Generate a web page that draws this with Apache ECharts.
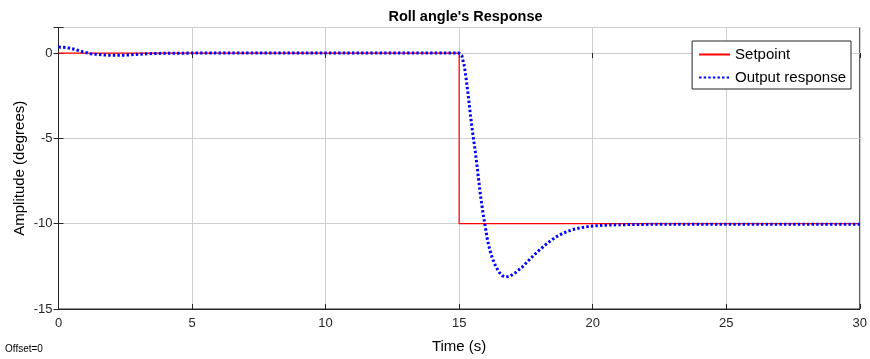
<!DOCTYPE html>
<html>
<head>
<meta charset="utf-8">
<script src="https://cdn.jsdelivr.net/npm/echarts@6/dist/echarts.min.js"></script>
<style>
  html, body { margin: 0; padding: 0; background: #fff; }
  #chart { width: 870px; height: 359px; }
</style>
</head>
<body>
<div id="chart"></div>
<script>
// setpoint step
var setpointTime = [0, 15, 15, 30];
var setpointValue = [0, 0, -10, -10];

// output response
var outputTime = [0, 0.3, 0.6, 0.9, 1.2, 1.6, 2.0, 2.5, 3.0, 3.5, 4.0, 5, 7, 9, 11, 13, 15,
    15.1, 15.2, 15.27, 15.35, 15.42, 15.5, 15.6, 15.7, 15.8, 15.9, 15.96, 16.06, 16.15, 16.25,
    16.37, 16.5, 16.62, 16.75, 16.9, 17.1, 17.37, 17.7, 18.0, 18.3, 18.62, 18.9, 19.24, 19.55,
    19.86, 20.3, 21, 22, 24, 26, 28, 30];
var outputValue = [0.35, 0.33, 0.22, 0.08, -0.04, -0.1, -0.13, -0.12, -0.07, -0.03, -0.01, 0, 0, 0, 0, 0, 0,
    -0.15, -0.8, -1.6, -2.6, -3.6, -4.6, -5.7, -7.0, -8.35, -9.45, -10.0, -10.95, -11.55, -12.05,
    -12.5, -12.85, -13.05, -13.12, -13.08, -12.88, -12.53, -12.0, -11.55, -11.15, -10.78, -10.55, -10.35, -10.24,
    -10.16, -10.1, -10.06, -10.04, -10.03, -10.03, -10.03, -10.03];

var xTicks = [0, 5, 10, 15, 20, 25, 30];
var yTicks = [-15, -10, -5, 0];

function pairs(xs, ys) {
    var out = [];
    for (var i = 0; i < xs.length; i++) out.push([xs[i], ys[i]]);
    return out;
}

var font = 'Liberation Sans, Arial, Helvetica, sans-serif';
var axisColor = '#262626';

var myChart = echarts.init(document.getElementById('chart'));
myChart.setOption({
    animation: false,
    title: {
        text: "Roll angle's Response",
        left: 460.5,
        textAlign: 'center',
        top: 4,
        textStyle: { fontFamily: font, fontSize: 14.5, fontWeight: 'bold', color: '#000' }
    },
    legend: {
        show: true,
        orient: 'vertical',
        right: 19,
        top: 41,
        align: 'left',
        padding: [6, 5, 4, 6],
        itemWidth: 31,
        itemHeight: 14,
        itemGap: 8,
        backgroundColor: '#fff',
        borderColor: axisColor,
        borderWidth: 1,
        borderRadius: 0,
        itemStyle: { opacity: 0 },
        textStyle: { fontFamily: font, fontSize: 15, color: '#000' },
        data: ['Setpoint', 'Output response']
    },
    grid: {
        left: 58.5,
        right: 7.5,
        top: 27.5,
        bottom: 50,
        show: true,
        borderColor: axisColor,
        borderWidth: 1,
        backgroundColor: '#fff'
    },
    graphic: [{
        type: 'text',
        left: 5,
        top: 344,
        style: { text: 'Offset=0', font: '10px ' + font, fill: '#000' }
    }],
    xAxis: [
        {
            type: 'value',
            min: xTicks[0],
            max: xTicks[xTicks.length - 1],
            interval: 5,
            name: 'Time (s)',
            nameLocation: 'middle',
            nameGap: 30,
            nameMoveOverlap: false,
            nameTextStyle: { fontFamily: font, fontSize: 15, color: '#000' },
            axisLine: { show: true, onZero: false, lineStyle: { color: axisColor } },
            axisTick: { show: true, inside: true, length: 5, lineStyle: { color: axisColor } },
            axisLabel: { fontFamily: font, fontSize: 13, color: axisColor, margin: 8 },
            splitLine: { show: true, lineStyle: { color: '#cfcfcf', width: 1 } }
        },
        {
            type: 'value',
            position: 'top',
            min: xTicks[0],
            max: xTicks[xTicks.length - 1],
            interval: 5,
            axisLine: { show: false },
            axisTick: { show: true, inside: true, length: 5, lineStyle: { color: axisColor } },
            axisLabel: { show: false },
            splitLine: { show: false }
        }
    ],
    yAxis: [
        {
            type: 'value',
            min: yTicks[0],
            max: 1.5,
            interval: 5,
            name: 'Amplitude (degrees)',
            nameLocation: 'middle',
            nameGap: 31,
            nameMoveOverlap: false,
            nameTextStyle: { fontFamily: font, fontSize: 15, color: '#000' },
            axisLine: { show: true, onZero: false, lineStyle: { color: axisColor } },
            axisTick: { show: true, inside: true, length: 5, lineStyle: { color: axisColor } },
            axisLabel: {
                fontFamily: font, fontSize: 13, color: axisColor, margin: 6,
                formatter: function (v) { return yTicks.indexOf(v) >= 0 ? String(v) : ''; }
            },
            splitLine: { show: true, lineStyle: { color: '#cfcfcf', width: 1 } }
        },
        {
            type: 'value',
            position: 'right',
            min: yTicks[0],
            max: 1.5,
            interval: 5,
            axisLine: { show: false },
            axisTick: { show: true, inside: true, length: 5, lineStyle: { color: axisColor } },
            axisLabel: { show: false },
            splitLine: { show: false }
        }
    ],
    series: [
        {
            name: 'Setpoint',
            type: 'line',
            xAxisIndex: 0,
            yAxisIndex: 0,
            symbol: 'none',
            lineStyle: { color: '#ff0000', width: 1.2 },
            itemStyle: { color: '#ff0000' },
            data: pairs(setpointTime, setpointValue)
        },
        {
            name: 'Output response',
            type: 'line',
            xAxisIndex: 0,
            yAxisIndex: 0,
            symbol: 'none',
            lineStyle: { color: '#0000ff', width: 3, type: [2.4, 2.2] },
            itemStyle: { color: '#0000ff' },
            data: pairs(outputTime, outputValue)
        }
    ]
});
</script>
</body>
</html>
